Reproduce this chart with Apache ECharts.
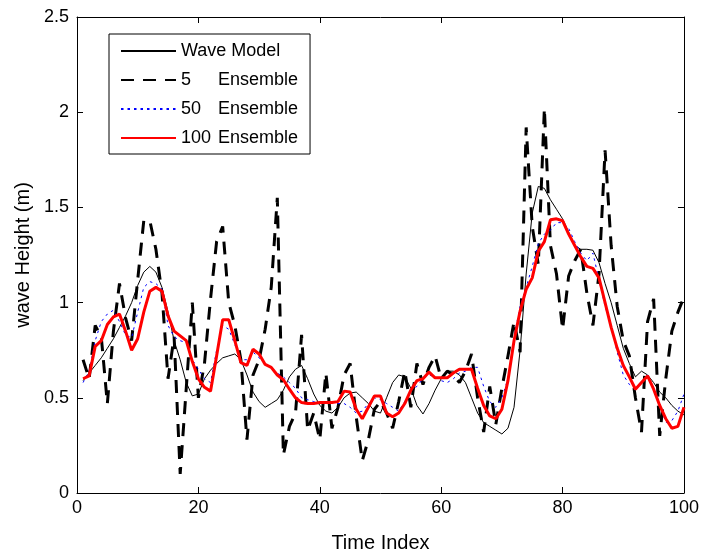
<!DOCTYPE html>
<html>
<head>
<meta charset="utf-8">
<script src="https://cdn.jsdelivr.net/npm/echarts@6/dist/echarts.min.js"></script>
<style>
html,body{margin:0;padding:0;background:#fff;}
#chart{width:702px;height:558px;}
</style>
</head>
<body>
<div id="chart"></div>
<script>
// Time index 1..100
const timeIndex = [1,2,3,4,5,6,7,8,9,10,11,12,13,14,15,16,17,18,19,20,
  21,22,23,24,25,26,27,28,29,30,31,32,33,34,35,36,37,38,39,40,
  41,42,43,44,45,46,47,48,49,50,51,52,53,54,55,56,57,58,59,60,
  61,62,63,64,65,66,67,68,69,70,71,72,73,74,75,76,77,78,79,80,
  81,82,83,84,85,86,87,88,89,90,91,92,93,94,95,96,97,98,99,100];

const waveModel = [0.59,0.63,0.67,0.71,0.76,0.81,0.87,0.93,1.00,1.09,
  1.16,1.19,1.16,1.08,0.95,0.80,0.70,0.58,0.51,0.52,
  0.60,0.645,0.68,0.71,0.72,0.73,0.70,0.62,0.53,0.48,
  0.45,0.47,0.49,0.54,0.61,0.65,0.67,0.60,0.52,0.46,
  0.43,0.42,0.45,0.50,0.525,0.53,0.50,0.47,0.43,0.42,
  0.50,0.58,0.62,0.61,0.55,0.46,0.415,0.47,0.54,0.60,
  0.64,0.64,0.62,0.58,0.50,0.42,0.37,0.35,0.33,0.31,
  0.34,0.45,0.75,1.15,1.47,1.61,1.60,1.54,1.49,1.44,
  1.37,1.30,1.28,1.28,1.275,1.21,1.10,1.00,0.88,0.76,
  0.68,0.61,0.64,0.62,0.58,0.53,0.50,0.46,0.43,0.41];

const ens5 = [0.70,0.60,0.88,0.82,0.47,0.85,1.10,0.92,0.80,1.12,
  1.43,1.43,1.28,1.05,0.60,0.82,0.10,0.55,1.00,0.50,
  0.68,1.02,1.32,1.40,1.00,0.88,0.70,0.28,0.62,0.70,
  0.86,1.08,1.55,0.20,0.35,0.42,0.83,0.33,0.42,0.28,
  0.63,0.34,0.45,0.62,0.68,0.40,0.17,0.28,0.44,0.48,
  0.42,0.34,0.48,0.64,0.45,0.68,0.57,0.66,0.72,0.60,
  0.64,0.62,0.58,0.64,0.73,0.50,0.32,0.56,0.36,0.55,
  0.72,0.90,0.74,1.92,1.40,1.20,2.02,1.30,1.15,0.86,
  1.14,1.22,1.28,1.05,0.88,1.15,1.80,1.30,0.98,0.80,
  0.72,0.50,0.32,0.90,1.02,0.30,0.60,0.85,0.95,1.03];

const ens50 = [0.58,0.64,0.80,0.90,0.94,0.96,0.90,0.83,0.815,0.95,
  1.08,1.11,1.10,1.07,0.88,0.82,0.80,0.79,0.70,0.65,
  0.60,0.58,0.75,0.88,0.86,0.78,0.70,0.70,0.74,0.71,
  0.68,0.66,0.63,0.61,0.58,0.55,0.50,0.49,0.48,0.47,
  0.47,0.48,0.47,0.47,0.45,0.42,0.43,0.47,0.50,0.49,
  0.47,0.45,0.43,0.48,0.54,0.56,0.60,0.62,0.61,0.59,
  0.58,0.60,0.63,0.64,0.66,0.66,0.56,0.48,0.45,0.50,
  0.60,0.82,0.98,1.08,1.19,1.31,1.36,1.38,1.42,1.42,
  1.39,1.32,1.26,1.22,1.26,1.12,0.98,0.88,0.74,0.62,
  0.57,0.55,0.58,0.62,0.55,0.47,0.37,0.38,0.43,0.52];

const ens100 = [0.60,0.615,0.77,0.80,0.885,0.925,0.94,0.85,0.75,0.81,
  0.95,1.06,1.08,1.06,0.93,0.85,0.825,0.80,0.69,0.60,
  0.555,0.535,0.72,0.91,0.91,0.80,0.685,0.67,0.755,0.73,
  0.675,0.66,0.62,0.595,0.545,0.50,0.475,0.47,0.47,0.475,
  0.475,0.475,0.48,0.535,0.53,0.44,0.39,0.45,0.51,0.51,
  0.42,0.40,0.42,0.47,0.54,0.59,0.60,0.635,0.605,0.605,
  0.605,0.63,0.65,0.65,0.65,0.55,0.46,0.405,0.39,0.44,
  0.59,0.80,0.955,1.07,1.13,1.27,1.32,1.435,1.44,1.43,
  1.36,1.30,1.24,1.19,1.18,1.13,1.00,0.87,0.76,0.67,
  0.61,0.545,0.58,0.615,0.545,0.46,0.39,0.34,0.35,0.45];

const xTicks = [0,20,40,60,80,100];
const yTicks = [0,0.5,1,1.5,2,2.5];

const seriesNames = ['Wave Model','5 Ensemble','50 Ensemble','100 Ensemble'];

function pairs(vals){ return timeIndex.map((t,i)=>[t, vals[i]]); }

const FONT = '"Liberation Sans", Arial, Helvetica, sans-serif';
const chart = echarts.init(document.getElementById('chart'), null, {renderer:'canvas'});

const axisCommon = {
  axisLine:{show:true, onZero:false, lineStyle:{color:'#000', width:1}},
  axisTick:{show:true, inside:true, length:6, lineStyle:{color:'#000', width:1}},
  splitLine:{show:false}
};

chart.setOption({
  animation:false,
  backgroundColor:'#fff',
  textStyle:{fontFamily:FONT},
  grid:{left:77, right:16, top:17, bottom:64, containLabel:false},
  legend:{
    orient:'vertical', left:109, top:34,
    data:seriesNames,
    backgroundColor:'#fff', borderColor:'#000', borderWidth:1, borderRadius:0,
    padding:[8,12,7,11],
    itemWidth:55, itemHeight:14, itemGap:11,
    itemStyle:{color:'rgba(0,0,0,0)', borderWidth:0, opacity:0},
    textStyle:{fontFamily:FONT, fontSize:18, color:'#000',
      rich:{
        n:{fontFamily:FONT, fontSize:18, color:'#000', width:37},
        t:{fontFamily:FONT, fontSize:18, color:'#000'}
      }},
    formatter:function(name){
      const m = name.match(/^(\d+) (.*)$/);
      if(m) return '{n|'+m[1]+'}{t|'+m[2]+'}';
      return name;
    }
  },
  xAxis:[
    Object.assign({type:'value', min:0, max:100, interval:20, position:'bottom',
      axisLabel:{color:'#000', fontSize:18, fontFamily:FONT, margin:6},
      name:'Time Index', nameLocation:'middle', nameGap:40,
      nameTextStyle:{color:'#000', fontSize:20, fontFamily:FONT}}, axisCommon),
    Object.assign({type:'value', min:0, max:100, interval:20, position:'top',
      axisLabel:{show:false}}, axisCommon)
  ],
  yAxis:[
    Object.assign({type:'value', min:0, max:2.5, interval:0.5, position:'left',
      axisLabel:{color:'#000', fontSize:18, fontFamily:FONT, margin:8},
      name:'wave Height (m)', nameLocation:'middle', nameGap:44, nameRotate:90,
      nameTextStyle:{color:'#000', fontSize:20, fontFamily:FONT}}, axisCommon),
    Object.assign({type:'value', min:0, max:2.5, interval:0.5, position:'right',
      axisLabel:{show:false}}, axisCommon)
  ],
  series:[
    {name:seriesNames[0], type:'line', data:pairs(waveModel), symbol:'none',
      lineStyle:{color:'#000', width:1}, itemStyle:{color:'#000'}, z:2},
    {name:seriesNames[1], type:'line', data:pairs(ens5), symbol:'none',
      lineStyle:{color:'#000', width:3, type:[13,9]}, itemStyle:{color:'#000'}, z:3},
    {name:seriesNames[2], type:'line', data:pairs(ens50), symbol:'none',
      lineStyle:{color:'#0000ff', width:1, type:[2.5,4]}, itemStyle:{color:'#0000ff'}, z:4},
    {name:seriesNames[3], type:'line', data:pairs(ens100), symbol:'none',
      lineStyle:{color:'#ff0000', width:3}, itemStyle:{color:'#ff0000'}, z:5}
  ]
});
</script>
</body>
</html>
